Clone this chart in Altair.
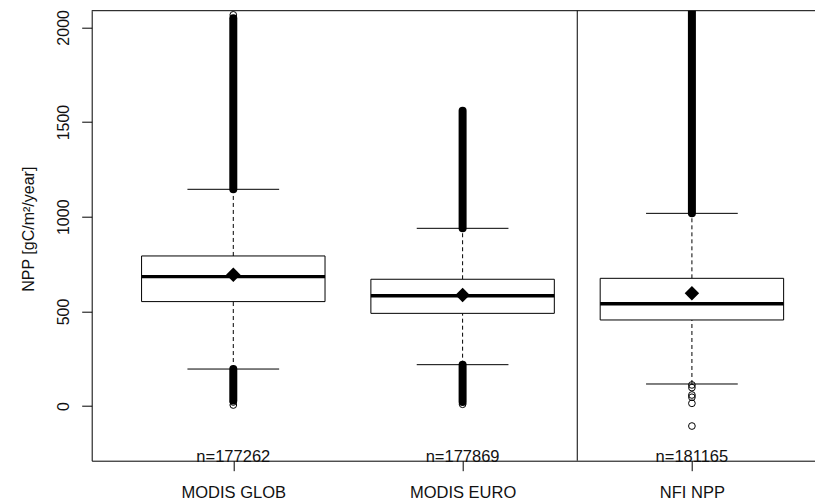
import altair as alt
import pandas as pd

# ---- data ----
groups = ["MODIS GLOB", "MODIS EURO", "NFI NPP"]
positions = [1, 2, 3]
q1 = [552, 490, 455]
median = [684, 583, 541]
q3 = [793, 670, 675]
mean = [694, 587, 596]
whisker_lo = [196, 219, 117]
whisker_hi = [1145, 939, 1018]
n_obs = [177262, 177869, 181165]

# dense runs of outliers (thousands of overlapping circles -> solid column)
dense_hi_top = [2048, 1560, 2400]
dense_lo_bottom = [30, 22, None]

# individually visible outliers
out_pos = [1, 1, 1, 2, 3, 3, 3, 3, 3, 3]
out_val = [2066, 22, 6, 10, 112, 98, 59, 47, 15, -105]

divider = [2.5]
y_ticks = [0, 500, 1000, 1500, 2000]
y_domain = [-288, 2088]
x_domain = [0.3825, 3.5368]

W, H = 723.3, 450
FONT = "Liberation Sans"

df = pd.DataFrame({
    "group": groups, "pos": positions, "q1": q1, "median": median, "q3": q3,
    "mean": mean, "wlo": whisker_lo, "whi": whisker_hi, "n": n_obs,
})
df["label"] = ["n=" + str(v) for v in n_obs]

hi = pd.DataFrame({"pos": positions, "lo": whisker_hi, "hi": dense_hi_top})
lo = pd.DataFrame({"pos": positions, "lo": dense_lo_bottom, "hi": whisker_lo}).dropna()
outs = pd.DataFrame({"pos": out_pos, "val": out_val})

xscale = alt.Scale(domain=x_domain, nice=False, zero=False)
yscale = alt.Scale(domain=y_domain, nice=False, zero=False)

label_expr = "[" + ",".join("'" + g + "'" for g in groups) + "][datum.value - 1]"
xaxis = alt.Axis(values=positions, labelExpr=label_expr, grid=False, tickSize=10,
                 tickColor="black", domainColor="black", labelFont=FONT, labelFontSize=16.5,
                 labelColor="#111", labelBaseline="alphabetic", labelPadding=27, title=None)
yaxis = alt.Axis(values=y_ticks, format="d", grid=False, tickSize=10, tickColor="black",
                 domainColor="black",
                 labelAngle=270, labelAlign="center", labelBaseline="alphabetic", labelPadding=13,
                 labelFont=FONT, labelFontSize=16, labelColor="#111",
                 title="NPP [gC/m²/year]", titleFont=FONT, titleFontSize=16, titleFontWeight="normal",
                 titleColor="#111", titleAngle=270, titleAlign="center", titleBaseline="alphabetic",
                 titleX=-58, titleY=218)


def X(f):
    return alt.X(f, type="quantitative", scale=xscale, axis=xaxis)


def Y(f):
    return alt.Y(f, type="quantitative", scale=yscale, axis=yaxis)


frame_top = alt.Chart(pd.DataFrame({"k": [0]})).mark_rule(color="black", strokeWidth=1).encode(
    x=alt.value(0), x2=alt.value(W), y=alt.value(0))

div = alt.Chart(pd.DataFrame({"x": divider})).mark_rule(color="black", strokeWidth=1).encode(
    x=X("x"))

base = alt.Chart(df)

whisk_up = base.mark_rule(color="black", strokeWidth=1, strokeDash=[4, 3]).encode(
    x=X("pos"), y=Y("q3"), y2="whi")
whisk_dn = base.mark_rule(color="black", strokeWidth=1, strokeDash=[4, 3]).encode(
    x=X("pos"), y=Y("wlo"), y2="q1")

dense_up = alt.Chart(hi).mark_rule(color="black", strokeWidth=8, strokeCap="round", clip=True).encode(
    x=X("pos"), y=Y("lo"), y2="hi")
dense_dn = alt.Chart(lo).mark_rule(color="black", strokeWidth=8, strokeCap="round").encode(
    x=X("pos"), y=Y("lo"), y2="hi")

cap_hi = base.transform_calculate(a="datum.pos - 0.2", b="datum.pos + 0.2").mark_rule(
    color="black", strokeWidth=1).encode(x=X("a"), x2="b", y=Y("whi"))
cap_lo = base.transform_calculate(a="datum.pos - 0.2", b="datum.pos + 0.2").mark_rule(
    color="black", strokeWidth=1).encode(x=X("a"), x2="b", y=Y("wlo"))

box = base.transform_calculate(a="datum.pos - 0.4", b="datum.pos + 0.4").mark_rect(
    fill="white", stroke="black", strokeWidth=1).encode(x=X("a"), x2="b", y=Y("q1"), y2="q3")

med = base.transform_calculate(a="datum.pos - 0.4", b="datum.pos + 0.4").mark_rule(
    color="black", strokeWidth=3.4).encode(x=X("a"), x2="b", y=Y("median"))

mean_pt = base.mark_point(shape="diamond", filled=True, color="black", size=210, opacity=1).encode(
    x=X("pos"), y=Y("mean"))

out_pts = alt.Chart(outs).mark_point(shape="circle", filled=False, color="black", size=45,
                                     strokeWidth=1, opacity=1).encode(x=X("pos"), y=Y("val"))

ntext = base.mark_text(font=FONT, fontSize=16.5, color="#111", baseline="alphabetic",
                       align="center", dy=1).encode(x=X("pos"), y=alt.value(H), text="label")

chart = alt.layer(
    div, whisk_up, whisk_dn, dense_up, dense_dn, cap_hi, cap_lo, box, med, mean_pt, out_pts,
    ntext, frame_top
).properties(
    width=W, height=H,
    autosize=alt.AutoSizeParams(type="none"),
    padding={"left": 83.7, "top": 2.7, "right": 0, "bottom": 41.3},
).configure_view(stroke=None)

chart.save("out.html", embed_options={"renderer": "svg", "actions": False})
